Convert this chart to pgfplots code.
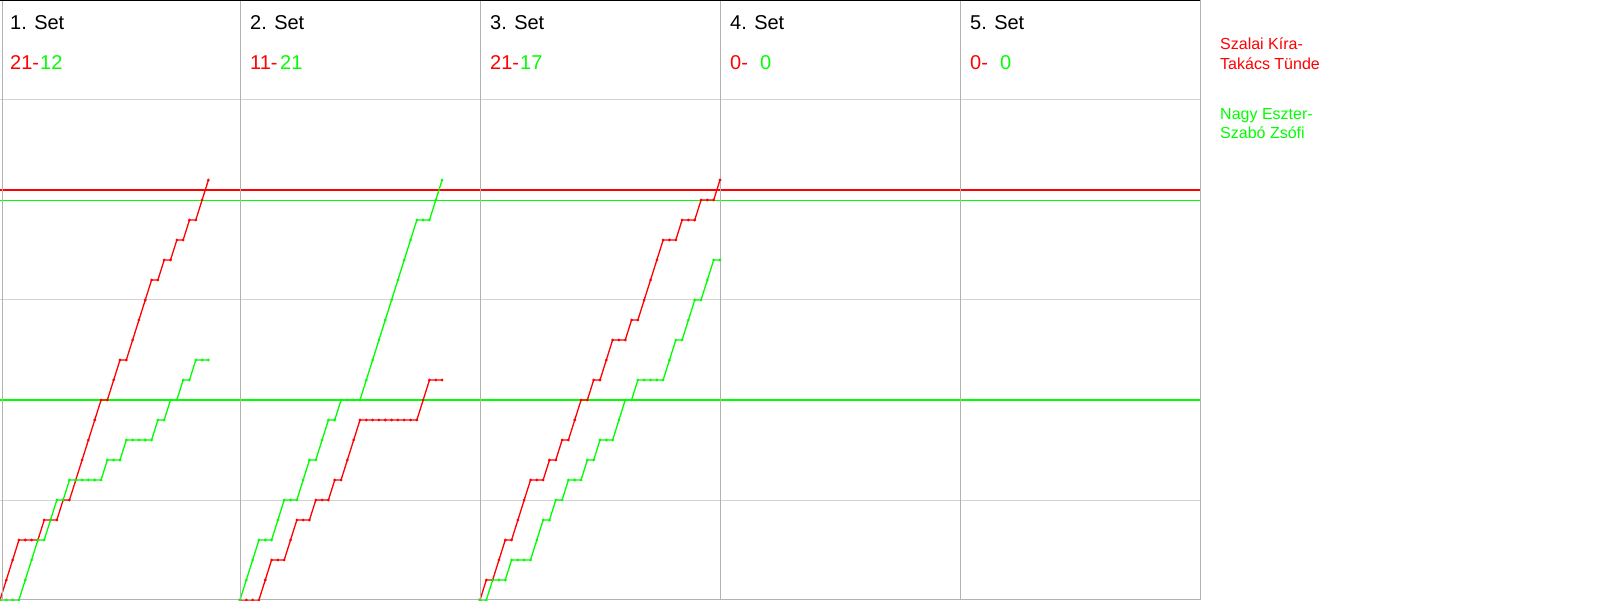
\documentclass[border=0pt]{standalone}
\usepackage{pgfplots}
\usepackage{pgfplotstable}
\pgfplotsset{compat=1.18}
\usepackage{fontspec}
\setmainfont{Liberation Sans}
\definecolor{cred}{RGB}{255,0,0}
\definecolor{cgreen}{RGB}{0,255,0}
\definecolor{gridh}{RGB}{211,211,211}
\definecolor{gridv}{RGB}{178,178,178}
\tikzset{
  tfont/.style={font=\fontsize{20}{24}\selectfont, anchor=base west, inner sep=0pt},
  lfont/.style={font=\fontsize{16}{19}\selectfont, anchor=base west, inner sep=0pt, text=cred}
}

\pgfplotstableread{
i r g
0 0 0
1 1 0
2 2 0
3 3 0
4 3 1
5 3 2
6 3 3
7 4 3
8 4 4
9 4 5
10 5 5
11 5 6
12 6 6
13 7 6
14 8 6
15 9 6
16 10 6
17 10 7
18 11 7
19 12 7
20 12 8
21 13 8
22 14 8
23 15 8
24 16 8
25 16 9
26 17 9
27 17 10
28 18 10
29 18 11
30 19 11
31 19 12
32 20 12
33 21 12
}\setA

\pgfplotstableread{
i r g
0 0 0
1 0 1
2 0 2
3 0 3
4 1 3
5 2 3
6 2 4
7 2 5
8 3 5
9 4 5
10 4 6
11 4 7
12 5 7
13 5 8
14 5 9
15 6 9
16 6 10
17 7 10
18 8 10
19 9 10
20 9 11
21 9 12
22 9 13
23 9 14
24 9 15
25 9 16
26 9 17
27 9 18
28 9 19
29 10 19
30 11 19
31 11 20
32 11 21
}\setB

\pgfplotstableread{
i r g
0 0 0
1 1 0
2 1 1
3 2 1
4 3 1
5 3 2
6 4 2
7 5 2
8 6 2
9 6 3
10 6 4
11 7 4
12 7 5
13 8 5
14 8 6
15 9 6
16 10 6
17 10 7
18 11 7
19 11 8
20 12 8
21 13 8
22 13 9
23 13 10
24 14 10
25 14 11
26 15 11
27 16 11
28 17 11
29 18 11
30 18 12
31 18 13
32 19 13
33 19 14
34 19 15
35 20 15
36 20 16
37 20 17
38 21 17
}\setC

\begin{document}
\begin{tikzpicture}
\path[use as bounding box] (0,0) rectangle (1600pt,600pt);
\begin{axis}[at={(0,0)}, anchor=south west, scale only axis,
  width=1200pt, height=600pt,
  xmin=0, xmax=190, ymin=0, ymax=30,
  hide axis, clip=false,
  every axis plot/.append style={line width=1.3pt, mark=*, mark size=0.6pt, mark options={solid}}]
% horizontal grid (below data)
\addplot[gridh, line width=1pt, mark=none] coordinates {(0,5) (190,5)};
\addplot[gridh, line width=1pt, mark=none] coordinates {(0,15) (190,15)};
\addplot[gridh, line width=1pt, mark=none] coordinates {(0,25) (190,25)};
% reference lines
\addplot[cred, line width=1.3pt, mark=none] coordinates {(0,20.5) (190,20.5)};
\addplot[cgreen, line width=1.3pt, mark=none] coordinates {(0,19.98) (190,19.98)};
\addplot[cgreen, line width=1.3pt, mark=none] coordinates {(0,10) (190,10)};
% set 1
\addplot[cred] table[x=i, y=r] {\setA};
\addplot[cgreen] table[x=i, y=g] {\setA};
% set 2
\addplot[cred] table[x expr=\thisrow{i}+38, y=r] {\setB};
\addplot[cgreen] table[x expr=\thisrow{i}+38, y=g] {\setB};
% set 3
\addplot[cred] table[x expr=\thisrow{i}+76, y=r] {\setC};
\addplot[cgreen] table[x expr=\thisrow{i}+76, y=g] {\setC};
% frame and separators (on top)
\foreach \xx in {38,76,114,152,190} {
  \edef\temp{\noexpand\draw[gridv, line width=1pt] (axis cs:\xx,0) -- (axis cs:\xx,30);}
  \temp
}
\draw[gridv, line width=1pt] (axis cs:0.32,0) -- (axis cs:0.32,30);
\draw[gridv, line width=1pt] (axis cs:0,0.03) -- (axis cs:190,0.03);
\draw[black, line width=1.2pt] (axis cs:0,29.98) -- (axis cs:190,29.98);
% titles
\node[tfont] at (axis cs:1.58,28.5) {1. Set};
\node[tfont] at (axis cs:39.58,28.5) {2. Set};
\node[tfont] at (axis cs:77.58,28.5) {3. Set};
\node[tfont] at (axis cs:115.58,28.5) {4. Set};
\node[tfont] at (axis cs:153.58,28.5) {5. Set};
% scores
\node[tfont, text=cred] at (axis cs:1.58,26.5) {21-};
\node[tfont, text=cgreen] at (axis cs:6.33,26.5) {12};
\node[tfont, text=cred] at (axis cs:39.58,26.5) {11-};
\node[tfont, text=cgreen] at (axis cs:44.33,26.5) {21};
\node[tfont, text=cred] at (axis cs:77.58,26.5) {21-};
\node[tfont, text=cgreen] at (axis cs:82.33,26.5) {17};
\node[tfont, text=cred] at (axis cs:115.58,26.5) {0-};
\node[tfont, text=cgreen] at (axis cs:120.33,26.5) {0};
\node[tfont, text=cred] at (axis cs:153.58,26.5) {0-};
\node[tfont, text=cgreen] at (axis cs:158.33,26.5) {0};
% legend
\node[lfont] at (axis cs:193.17,27.5) {Szalai Kíra-};
\node[lfont] at (axis cs:193.17,26.53) {Takács Tünde};
\node[lfont, text=cgreen] at (axis cs:193.17,24.0) {Nagy Eszter-};
\node[lfont, text=cgreen] at (axis cs:193.17,23.07) {Szabó Zsófi};
\end{axis}
\end{tikzpicture}
\end{document}
